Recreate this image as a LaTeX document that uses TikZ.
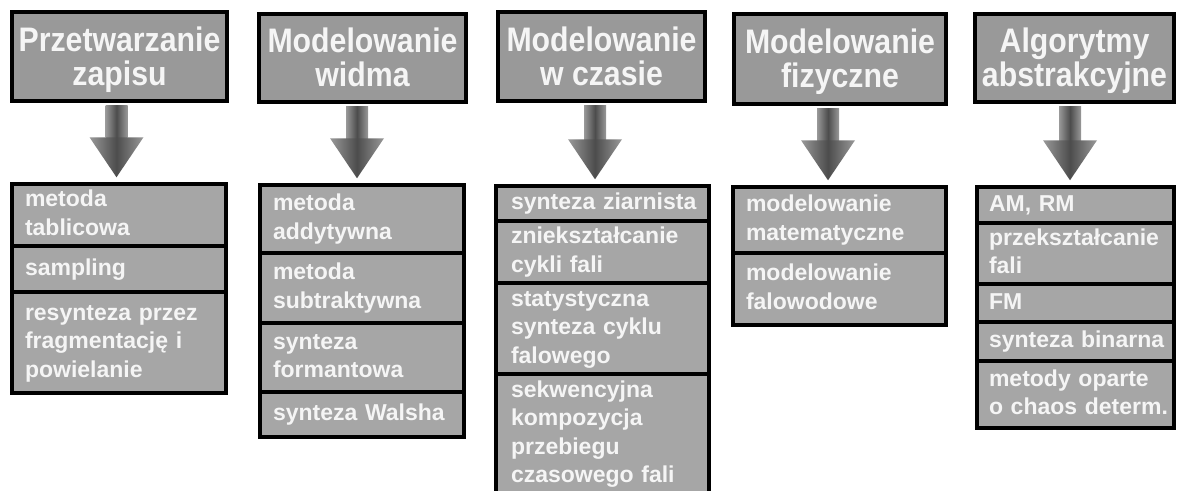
\documentclass[tikz,border=0pt]{standalone}
\usepackage{fontspec}
\setmainfont{Liberation Sans}
\newfontfamily\hdfont[FakeStretch=0.89]{Liberation Sans}
\usetikzlibrary{calc}
\definecolor{hdfill}{gray}{0.60}
\definecolor{lsfill}{gray}{0.65}
\definecolor{txt}{gray}{0.96}
\definecolor{arrdark}{gray}{0.30}
\definecolor{arrlight}{gray}{0.60}
\newcommand\tl[1]{\begin{tabular}{@{}l@{}}\rule{0pt}{21pt}#1\end{tabular}}
\newcommand\tc[1]{\begin{tabular}{@{}c@{}}\rule{0pt}{33pt}#1\end{tabular}}
\tikzset{
  hdbox/.style={draw=black, line width=4pt, fill=hdfill, text=txt, inner sep=0pt,
    font=\hdfont\bfseries\fontsize{34}{32}\selectfont},
  item/.style={draw=black, line width=3.5pt, fill=lsfill, text=txt, inner ysep=0pt,
    align=left, font=\bfseries\fontsize{23}{28.5}\selectfont},
  shaft/.style={left color=arrlight, right color=arrlight, middle color=arrdark},
}
\newcommand\grarr[3]{%
  \path[shaft] let \p1=(#2.south), \p2=(#3.north) in
    ({#1pt-11pt},{\y1-2pt}) rectangle ({#1pt+11pt},{\y2+45pt});
  \path[shaft] let \p2=(#3.north) in
    ({#1pt-27pt},{\y2+45pt}) -- ({#1pt+27pt},{\y2+45pt}) -- (#1pt,{\y2+5pt}) -- cycle;
}
\begin{document}
\begin{tikzpicture}[x=1pt,y=1pt]
\useasboundingbox[fill=white] (0,0) rectangle (1177,-490);
% column 1
\node[hdbox, minimum width=215pt, minimum height=89pt] (h1) at (119.5,-56.5) {\tc{Przetwarzanie\\zapisu}};
\node[item, text width=188pt, inner xsep=13pt, minimum height=62pt] (l1a) at (119,-215) {\tl{metoda\\tablicowa}};
\node[item, text width=188pt, inner xsep=13pt, minimum height=46pt] (l1b) at (119,-269) {\tl{sampling}};
\node[item, text width=188pt, inner xsep=13pt, minimum height=101pt] (l1c) at (119,-342.5) {\tl{resynteza przez\\fragmentację i\\powielanie}};
\grarr{116.5}{h1}{l1a}
% column 2
\node[hdbox, minimum width=207pt, minimum height=88pt] (h2) at (362.5,-58) {\tc{Modelowanie\\widma}};
\node[item, text width=178pt, inner xsep=13pt, minimum height=68pt] (l2a) at (362,-219) {\tl{metoda\\addytywna}};
\node[item, text width=178pt, inner xsep=13pt, minimum height=70pt] (l2b) at (362,-288) {\tl{metoda\\subtraktywna}};
\node[item, text width=178pt, inner xsep=13pt, minimum height=69pt] (l2c) at (362,-357.5) {\tl{synteza\\formantowa}};
\node[item, text width=178pt, inner xsep=13pt, minimum height=45pt] (l2d) at (362,-414.5) {\tl{synteza Walsha}};
\grarr{357}{h2}{l2a}
% column 3
\node[hdbox, minimum width=207pt, minimum height=89pt] (h3) at (601.5,-56.5) {\tc{Modelowanie\\w czasie}};
\node[item, text width=183pt, inner xsep=15pt, minimum height=35pt] (l3a) at (602.5,-203.5) {\tl{synteza ziarnista}};
\node[item, text width=183pt, inner xsep=15pt, minimum height=62pt] (l3b) at (602.5,-252) {\tl{zniekształcanie\\cykli fali}};
\node[item, text width=183pt, inner xsep=15pt, minimum height=91pt] (l3c) at (602.5,-328.5) {\tl{statystyczna\\synteza cyklu\\falowego}};
\node[item, text width=183pt, inner xsep=15pt, minimum height=120pt] (l3d) at (602.5,-434) {\tl{sekwencyjna\\kompozycja\\przebiegu\\czasowego fali}};
\grarr{595}{h3}{l3a}
% column 4
\node[hdbox, minimum width=212pt, minimum height=90pt] (h4) at (840,-59) {\tc{Modelowanie\\fizyczne}};
\node[item, text width=187pt, inner xsep=13pt, minimum height=66pt] (l4a) at (839.5,-220) {\tl{modelowanie\\matematyczne}};
\node[item, text width=187pt, inner xsep=13pt, minimum height=72pt] (l4b) at (839.5,-289) {\tl{modelowanie\\falowodowe}};
\grarr{828}{h4}{l4a}
% column 5
\node[hdbox, minimum width=199pt, minimum height=88pt] (h5) at (1074.5,-58) {\tc{Algorytmy\\abstrakcyjne}};
\node[item, text width=173pt, inner xsep=12pt, minimum height=36pt] (l5a) at (1075.5,-205) {\tl{AM, RM}};
\node[item, text width=173pt, inner xsep=12pt, minimum height=61pt] (l5b) at (1075.5,-253.5) {\tl{przekształcanie\\fali}};
\node[item, text width=173pt, inner xsep=12pt, minimum height=38pt] (l5c) at (1075.5,-303) {\tl{FM}};
\node[item, text width=173pt, inner xsep=12pt, minimum height=39pt] (l5d) at (1075.5,-341.5) {\tl{synteza binarna}};
\node[item, text width=173pt, inner xsep=12pt, minimum height=67pt] (l5e) at (1075.5,-394.5) {\tl{metody oparte\\o chaos determ.}};
\grarr{1070}{h5}{l5a}
\end{tikzpicture}
\end{document}
